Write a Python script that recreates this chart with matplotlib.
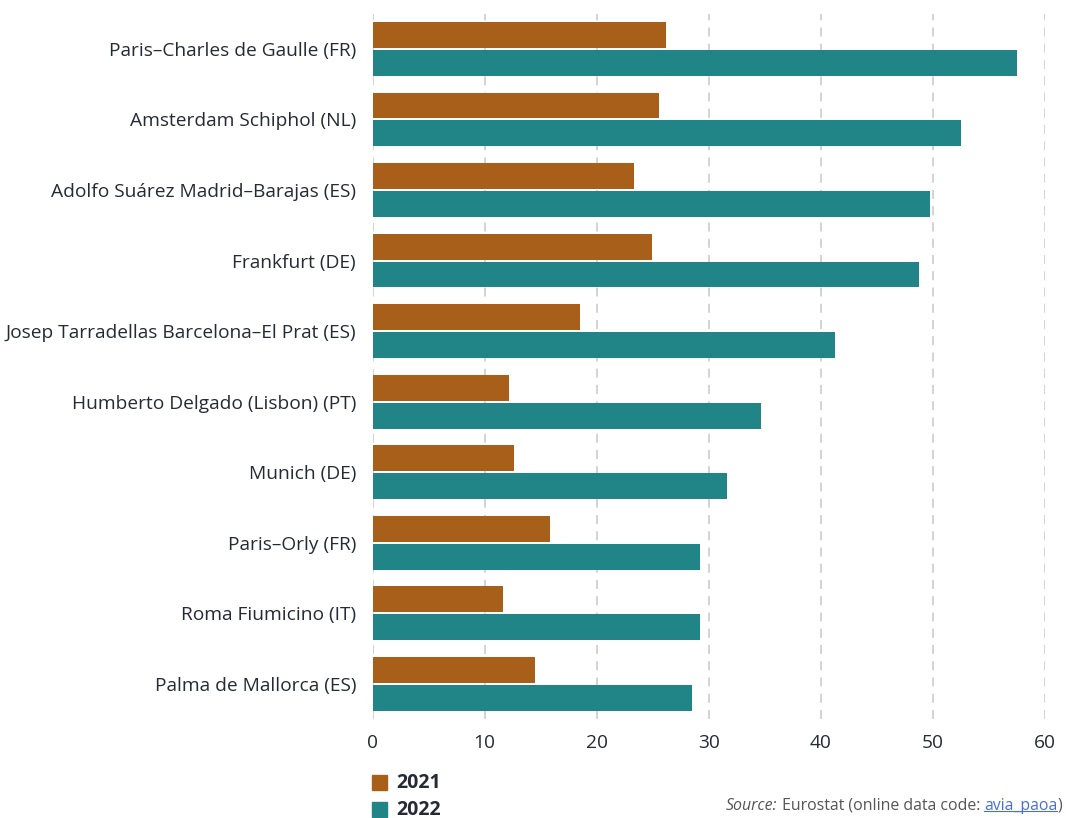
import numpy as np
import matplotlib.pyplot as plt
from matplotlib.patches import Rectangle
from matplotlib.lines import Line2D

airports = ["Paris–Charles de Gaulle (FR)", "Amsterdam Schiphol (NL)",
            "Adolfo Suárez Madrid–Barajas (ES)", "Frankfurt (DE)",
            "Josep Tarradellas Barcelona–El Prat (ES)", "Humberto Delgado (Lisbon) (PT)",
            "Munich (DE)", "Paris–Orly (FR)", "Roma Fiumicino (IT)", "Palma de Mallorca (ES)"]
vals_2021 = [26.2, 25.6, 23.3, 24.9, 18.5, 12.2, 12.6, 15.8, 11.6, 14.5]
vals_2022 = [57.5, 52.5, 49.8, 48.8, 41.3, 34.7, 31.6, 29.2, 29.2, 28.5]
years = ["2021", "2022"]
xticks = [0, 10, 20, 30, 40, 50, 60]

c2021 = "#a85f19"
c2022 = "#218486"
txt = "#262a36"

plt.rcParams['font.family'] = ['Open Sans', 'DejaVu Sans']

fig = plt.figure(figsize=(10.66, 8.18), dpi=100)
ax = fig.add_axes([0.3496, 0.121, 0.6304, 0.8623])

y = np.arange(len(airports))
h = 0.368
off = 0.198
ax.barh(y - off, vals_2021, height=h, color=c2021, zorder=3)
ax.barh(y + off, vals_2022, height=h, color=c2022, zorder=3)

ax.set_ylim(len(airports) - 0.5, -0.5)
ax.set_xlim(0, 60)
ax.set_xticks(xticks)
ax.set_yticks(y)
ax.set_yticklabels(airports)
ax.tick_params(length=0, labelsize=13.8, colors=txt)
ax.tick_params(axis='y', pad=12)
ax.tick_params(axis='x', pad=11)
for s in ax.spines.values():
    s.set_visible(False)
for xv in xticks:
    ax.axvline(xv, color="#d0d0d0", lw=1.3, ls=(0, (5, 4)), zorder=1)

# legend: squares + bold labels
W, H = 1066, 818
for i, (yr, col) in enumerate(zip(years, [c2021, c2022])):
    top = 775 + 27 * i
    fig.add_artist(Rectangle((372 / W, 1 - (top + 15) / H), 15 / W, 15 / H,
                             color=col, transform=fig.transFigure))
    fig.text(396 / W, 1 - (top + 8) / H, yr, fontsize=14, weight='bold', color=txt, va='center')

# source line, laid out from the right edge
fs = 11.4
grey = "#555555"
link = "#4a6fd0"
t4 = fig.text(1062 / W, 1 - 810 / H, ")", fontsize=fs, color=grey, ha='right', va='baseline')
t3 = ax.annotate("avia_paoa", xy=(0, 0), xycoords=t4, ha='right', va='bottom', fontsize=fs, color=link)
t2 = ax.annotate(" Eurostat (online data code: ", xy=(0, 0), xycoords=t3, ha='right', va='bottom',
                 fontsize=fs, color=grey)
t1 = ax.annotate("Source:", xy=(0, 0), xycoords=t2, ha='right', va='bottom', fontsize=fs,
                 style='italic', color=grey)

fig.canvas.draw()
bb = t3.get_window_extent()
fig.add_artist(Line2D([bb.x0 / fig.bbox.width, bb.x1 / fig.bbox.width],
                      [(bb.y0 + 3) / fig.bbox.height] * 2, color=link, lw=0.8))

fig.savefig("out.png", dpi=100)
